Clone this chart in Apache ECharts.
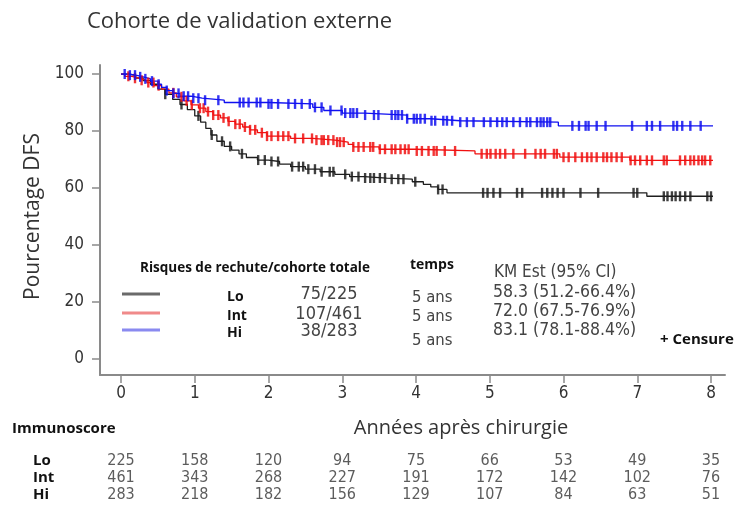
<!DOCTYPE html>
<html><head><meta charset="utf-8">
<script src="https://cdn.jsdelivr.net/npm/echarts@6/dist/echarts.min.js"></script>
<style>html,body{margin:0;padding:0;background:#fff}#c{width:740px;height:512px}</style>
</head><body><div id="c"></div>
<script>
// ---- Data ----
const years = [0, 1, 2, 3, 4, 5, 6, 7, 8];
const groups = ['Lo', 'Int', 'Hi'];
// Kaplan-Meier step points (time in years, DFS %)
const loTimes = [0, 0.1, 0.2, 0.3, 0.4, 0.5, 0.6, 0.7, 0.8, 0.9, 1.0, 1.08, 1.15, 1.22, 1.3, 1.4, 1.5, 1.6, 1.7, 1.85, 2.0, 2.15, 2.3, 2.5, 2.7, 2.9, 3.1, 3.3, 3.6, 3.95, 4.1, 4.2, 4.3, 4.42, 7.13, 8.08];
const loSurv  = [100, 99.5, 98.6, 97.7, 96.4, 94.7, 92.9, 91.1, 89.3, 87.5, 85.3, 83.1, 80.9, 78.6, 76.4, 74.6, 73.3, 72.0, 70.7, 69.8, 69.3, 68.4, 67.5, 66.6, 65.7, 64.8, 64.0, 63.5, 63.1, 62.2, 61.3, 60.4, 59.5, 58.3, 57.1, 57.1];
const intTimes = [0, 0.05, 0.15, 0.25, 0.35, 0.45, 0.55, 0.65, 0.75, 0.85, 0.95, 1.05, 1.15, 1.25, 1.35, 1.45, 1.55, 1.65, 1.75, 1.85, 1.98, 2.3, 2.6, 2.9, 3.08, 3.15, 3.5, 4.0, 4.8, 5.95, 6.9, 8.08];
const intSurv  = [100, 99.2, 98.5, 97.8, 97.0, 95.9, 94.7, 93.4, 92.0, 90.6, 89.2, 88.0, 86.8, 85.6, 84.6, 83.4, 82.4, 81.4, 80.4, 79.4, 78.2, 77.4, 76.8, 76.1, 75.3, 74.4, 73.6, 73.0, 72.0, 70.8, 69.7, 69.7];
const hiTimes = [0, 0.1, 0.2, 0.3, 0.4, 0.5, 0.55, 0.62, 0.7, 0.8, 0.95, 1.1, 1.4, 2.0, 2.6, 2.75, 3.0, 3.3, 3.88, 4.2, 4.6, 5.93, 8.08];
const hiSurv  = [100, 99.6, 99.0, 98.3, 97.5, 96.4, 95.3, 94.2, 93.2, 92.2, 91.5, 90.8, 90.0, 89.5, 88.3, 87.2, 86.3, 85.6, 84.3, 83.6, 83.1, 81.8, 81.8];
// censoring times (years)
const loCensor = [0.6, 0.82, 1.05, 1.23, 1.37, 1.48, 1.64, 1.86, 1.95, 2.04, 2.13, 2.32, 2.41, 2.47, 2.54, 2.63, 2.72, 2.83, 2.88, 3.04, 3.13, 3.22, 3.31, 3.38, 3.43, 3.51, 3.58, 3.67, 3.76, 3.83, 3.99, 4.30, 4.36, 4.91, 4.97, 5.05, 5.14, 5.37, 5.44, 5.71, 5.78, 5.85, 5.92, 6.0, 6.23, 6.47, 6.95, 7.0, 7.36, 7.41, 7.47, 7.52, 7.58, 7.65, 7.72, 7.95, 8.0];
const intCensor = [0.10, 0.19, 0.28, 0.37, 0.44, 0.51, 0.71, 0.82, 0.89, 0.96, 1.07, 1.12, 1.18, 1.25, 1.32, 1.39, 1.46, 1.55, 1.61, 1.68, 1.75, 1.82, 1.91, 1.98, 2.04, 2.13, 2.20, 2.27, 2.36, 2.47, 2.59, 2.65, 2.72, 2.75, 2.81, 2.88, 2.93, 2.97, 3.02, 3.15, 3.22, 3.29, 3.38, 3.42, 3.51, 3.58, 3.67, 3.72, 3.79, 3.85, 3.90, 4.01, 4.08, 4.17, 4.24, 4.28, 4.39, 4.53, 4.89, 4.96, 5.01, 5.08, 5.14, 5.21, 5.32, 5.48, 5.62, 5.69, 5.75, 5.87, 5.91, 6.0, 6.07, 6.16, 6.25, 6.32, 6.38, 6.45, 6.54, 6.59, 6.65, 6.72, 6.79, 6.91, 6.97, 7.04, 7.13, 7.20, 7.36, 7.40, 7.58, 7.65, 7.72, 7.77, 7.83, 7.88, 7.92, 7.99, 8.06];
const hiCensor = [0.05, 0.12, 0.19, 0.26, 0.33, 0.42, 0.51, 0.62, 0.71, 0.78, 0.85, 0.91, 0.98, 1.05, 1.14, 1.32, 1.61, 1.66, 1.73, 1.84, 1.89, 2.0, 2.04, 2.13, 2.27, 2.36, 2.45, 2.56, 2.63, 2.72, 2.84, 2.99, 3.04, 3.11, 3.15, 3.20, 3.31, 3.43, 3.49, 3.67, 3.72, 3.76, 3.81, 3.88, 3.97, 4.01, 4.06, 4.12, 4.21, 4.26, 4.37, 4.42, 4.49, 4.60, 4.69, 4.78, 4.92, 5.01, 5.10, 5.17, 5.23, 5.32, 5.41, 5.50, 5.55, 5.64, 5.69, 5.73, 5.78, 5.82, 6.12, 6.21, 6.30, 6.34, 6.45, 6.57, 6.93, 7.13, 7.20, 7.31, 7.49, 7.54, 7.61, 7.72, 7.86, 8.01];
// numbers at risk
const riskLo  = [225, 158, 120, 94, 75, 66, 53, 49, 35];
const riskInt = [461, 343, 268, 227, 191, 172, 142, 102, 76];
const riskHi  = [283, 218, 182, 156, 129, 107, 84, 63, 51];
// legend table texts
const legendEvents = ['75/225', '107/461', '38/283'];
const legendTime = ['5 ans', '5 ans', '5 ans'];
const legendKM = ['58.3 (51.2-66.4%)', '72.0 (67.5-76.9%)', '83.1 (78.1-88.4%)'];

// ---- Helpers ----
const NARROW = '"Liberation Sans Narrow", "DejaVu Sans Condensed", "Liberation Sans", sans-serif';
const SANS = '"Open Sans", "Noto Sans", sans-serif';
const COL = ['#1e1e1e', '#f01010', '#1010f0'];
function steps(t, s) { return t.map((x, i) => [x, s[i]]); }
function survAt(t, s, x) { let v = s[0]; for (let i = 0; i < t.length; i++) { if (t[i] <= x) v = s[i]; } return v; }
function censorPts(c, t, s) { return c.map(x => [x, survAt(t, s, x)]); }

const lineSeries = (name, data, color) => ({
  name, type: 'line', xAxisIndex: 1, yAxisIndex: 1, step: 'end', data, showSymbol: false,
  lineStyle: { color, width: 1.3 }, silent: true, z: 3
});
const censorSeries = (name, data, color) => ({
  name: name + ' censure', type: 'scatter', xAxisIndex: 1, yAxisIndex: 1, data,
  symbol: 'rect', symbolSize: [2.4, 10], itemStyle: { color, opacity: 0.85 }, silent: true, z: 4
});
const riskSeries = (g, arr) => ({
  type: 'scatter', xAxisIndex: 2, yAxisIndex: 2, symbolSize: 1,
  data: arr.map((n, i) => [years[i], g, n]), itemStyle: { color: 'rgba(0,0,0,0)' },
  label: { show: true, position: 'inside', formatter: p => p.value[2], fontFamily: NARROW, fontSize: 16, color: '#333' },
  silent: true
});

const legendY = [294, 313, 330];
const legendLineCol = ['#6a6a6a', '#f08a8a', '#8a8af0'];
const graphics = [];
graphics.push({ type: 'text', x: 140, y: 268, style: { text: 'Risques de rechute/cohorte totale', font: 'bold 13.5px ' + SANS, fill: '#111', verticalAlign: 'middle' } });
graphics.push({ type: 'text', x: 410, y: 265, style: { text: 'temps', font: 'bold 14px ' + SANS, fill: '#111', verticalAlign: 'middle' } });
graphics.push({ type: 'text', x: 494, y: 273, style: { text: 'KM Est (95% CI)', font: '17px ' + NARROW, fill: '#444', verticalAlign: 'middle' } });
groups.forEach((g, i) => {
  graphics.push({ type: 'line', shape: { x1: 122, y1: legendY[i], x2: 160, y2: legendY[i] }, style: { stroke: legendLineCol[i], lineWidth: 3 } });
  graphics.push({ type: 'text', x: 227, y: [297, 316, 333][i], style: { text: g, font: 'bold 14px ' + SANS, fill: '#111', verticalAlign: 'middle' } });
  graphics.push({ type: 'text', x: 329, y: [294, 314, 331][i], style: { text: legendEvents[i], font: '18px ' + NARROW, fill: '#444', align: 'center', verticalAlign: 'middle' } });
  graphics.push({ type: 'text', x: 412, y: [298, 317, 341][i], style: { text: legendTime[i], font: '16.5px ' + NARROW, fill: '#444', align: 'left', verticalAlign: 'middle' } });
  graphics.push({ type: 'text', x: 493, y: [292, 311, 330][i], style: { text: legendKM[i], font: '17.5px ' + NARROW, fill: '#444', align: 'left', verticalAlign: 'middle' } });
});
graphics.push({ type: 'text', x: 660, y: 340, style: { text: '+ Censure', font: 'bold 15px ' + SANS, fill: '#111', verticalAlign: 'middle' } });
graphics.push({ type: 'text', x: 12, y: 429, style: { text: 'Immunoscore', font: 'bold 15px ' + SANS, fill: '#111', verticalAlign: 'middle' } });
graphics.push({ type: 'text', x: 461, y: 428, style: { text: 'Années après chirurgie', font: '20px ' + SANS, fill: '#333', align: 'center', verticalAlign: 'middle' } });

const hiddenLine = { show: true, onZero: false, lineStyle: { color: 'rgba(0,0,0,0)', width: 0 } };

const chart = echarts.init(document.getElementById('c'), null, { renderer: 'canvas' });
chart.setOption({
  animation: false,
  backgroundColor: '#fff',
  title: { text: 'Cohorte de validation externe', left: 82, top: 6, textStyle: { fontFamily: SANS, fontSize: 22, fontWeight: 'normal', color: '#333' } },
  grid: [
    { left: 100, top: 65, width: 625, height: 310 },
    { left: 121, top: 74, width: 590, height: 285 },
    { left: 121, top: 452, width: 590, height: 51 }
  ],
  xAxis: [
    { gridIndex: 0, type: 'value', min: 0, max: 1, axisLine: { show: true, onZero: false, lineStyle: { color: '#8a8a8a', width: 2 } }, axisTick: { show: false }, axisLabel: { show: false }, splitLine: { show: false } },
    { gridIndex: 1, type: 'value', min: 0, max: 8, interval: 1, offset: 16,
      axisLine: hiddenLine, axisTick: { show: true, length: 8, lineStyle: { color: '#8a8a8a', width: 1.5 } },
      axisLabel: { margin: 10, fontSize: 17, color: '#333', fontFamily: NARROW }, splitLine: { show: false } },
    { gridIndex: 2, type: 'value', min: 0, max: 8, show: false }
  ],
  yAxis: [
    { gridIndex: 0, type: 'value', min: 0, max: 1, axisLine: { show: true, onZero: false, lineStyle: { color: '#8a8a8a', width: 2 } }, axisTick: { show: false }, axisLabel: { show: false }, splitLine: { show: false } },
    { gridIndex: 1, type: 'value', min: 0, max: 100, interval: 20, offset: 21,
      axisLine: hiddenLine, axisTick: { show: true, length: 8, lineStyle: { color: '#8a8a8a', width: 1.5 } },
      axisLabel: { margin: 16, fontSize: 17, color: '#333', fontFamily: NARROW }, splitLine: { show: false },
      name: 'Pourcentage DFS', nameLocation: 'middle', nameRotate: 90, nameGap: 41,
      nameTextStyle: { fontFamily: SANS, fontSize: 21, color: '#333' } },
    { gridIndex: 2, type: 'category', data: groups, inverse: true, axisLine: { show: false }, axisTick: { show: false },
      axisLabel: { interval: 0, margin: 88, align: 'left', fontFamily: SANS, fontWeight: 'bold', fontSize: 15, color: '#111' } }
  ],
  series: [
    lineSeries('Lo', steps(loTimes, loSurv), COL[0]),
    lineSeries('Int', steps(intTimes, intSurv), COL[1]),
    lineSeries('Hi', steps(hiTimes, hiSurv), COL[2]),
    censorSeries('Lo', censorPts(loCensor, loTimes, loSurv), COL[0]),
    censorSeries('Int', censorPts(intCensor, intTimes, intSurv), COL[1]),
    censorSeries('Hi', censorPts(hiCensor, hiTimes, hiSurv), COL[2]),
    riskSeries('Lo', riskLo),
    riskSeries('Int', riskInt),
    riskSeries('Hi', riskHi)
  ],
  graphic: graphics
});
</script></body></html>
